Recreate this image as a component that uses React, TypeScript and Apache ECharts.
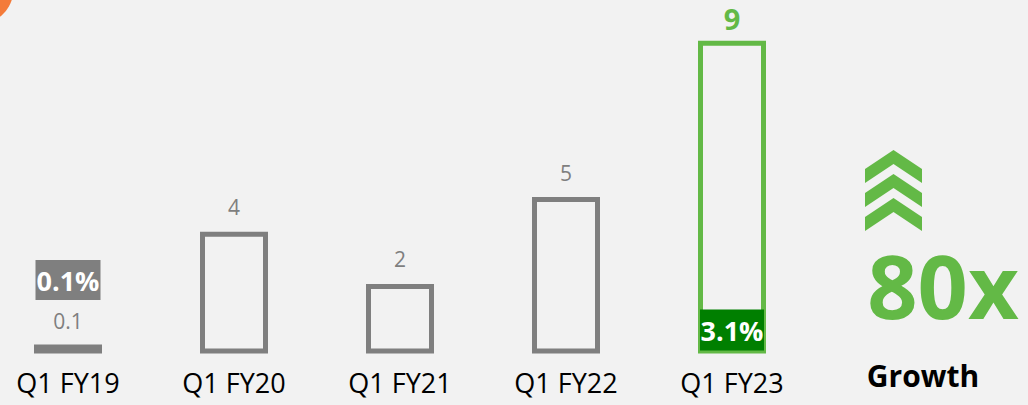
import React, { useEffect, useRef } from "react";
import * as echarts from "echarts";

const categories = ["Q1 FY19", "Q1 FY20", "Q1 FY21", "Q1 FY22", "Q1 FY23"];
const values = [0.1, 3.5, 2.0, 4.5, 9.0];
const valueLabels = ["0.1", "4", "2", "5", "9"];
const shareLabels = ["0.1%", "", "", "", "3.1%"];
const growthValue = "80x";
const growthCaption = "Growth";

const GRAY = "#7F7F7F";
const GREEN = "#63B946";
const DARK_GREEN = "#007F00";
const FONT = '"Open Sans", "Noto Sans", sans-serif';

export default function App() {
  const ref = useRef<HTMLDivElement>(null);

  useEffect(() => {
    if (!ref.current) return;
    const chart = echarts.init(ref.current, undefined, { renderer: "svg" });
    const last = values.length - 1;

    const mainData = values.map((v, i) => ({
      value: v,
      itemStyle: {
        color: i === 0 ? GRAY : "rgba(0,0,0,0)",
        borderColor: i === last ? GREEN : GRAY,
        borderWidth: 5,
      },
      label:
        i === last
          ? { distance: 8, color: GREEN, fontSize: 29, fontWeight: "bold" as const }
          : i === 0
          ? { distance: 13 }
          : undefined,
    }));

    const shareData = values.map((v, i) => {
      const s = shareLabels[i];
      if (!s) return { value: v, label: { show: false } };
      if (i === last) {
        return {
          value: v,
          label: {
            show: true,
            position: "insideBottom" as const,
            distance: 3,
            formatter: "{g|" + s + "}",
          },
        };
      }
      return {
        value: v,
        label: {
          show: true,
          position: "top" as const,
          distance: 44.5,
          formatter: "{b|" + s + "}",
        },
      };
    });

    const chevrons = [0, 24, 48].map((dy) => ({
      type: "polygon",
      shape: {
        points: [
          [865, 169 + dy],
          [893.5, 150 + dy],
          [922, 169 + dy],
          [922, 183 + dy],
          [893.5, 164 + dy],
          [865, 183 + dy],
        ],
      },
      style: { fill: GREEN },
    }));

    chart.setOption({
      animation: false,
      backgroundColor: "#F2F2F2",
      grid: {
        left: -15,
        width: 830,
        top: 40.7,
        bottom: 51.5,
        containLabel: false,
        outerBoundsMode: "none",
      },
      xAxis: {
        type: "category",
        data: categories,
        axisLine: { show: false },
        axisTick: { show: false },
        axisLabel: {
          color: "#000",
          fontSize: 27,
          fontFamily: FONT,
          margin: 15.5,
          interval: 0,
        },
      },
      yAxis: {
        type: "value",
        min: 0,
        max: 9,
        show: false,
        splitLine: { show: false },
      },
      series: [
        {
          type: "bar",
          name: "value",
          barWidth: 68,
          barMinHeight: 9,
          data: mainData,
          label: {
            show: true,
            position: "top",
            distance: 14,
            color: GRAY,
            fontSize: 21,
            fontFamily: FONT,
            formatter: (p: any) => valueLabels[p.dataIndex],
          },
          silent: true,
        },
        {
          type: "bar",
          name: "share",
          barWidth: 68,
          barMinHeight: 9,
          barGap: "-100%",
          data: shareData,
          itemStyle: { color: "rgba(0,0,0,0)", borderWidth: 0 },
          z: 5,
          silent: true,
          label: {
            fontFamily: FONT,
            rich: {
              b: {
                backgroundColor: GRAY,
                color: "#fff",
                fontWeight: "bold",
                fontSize: 27,
                fontFamily: FONT,
                width: 65,
                height: 40,
                lineHeight: 40,
                align: "center",
              },
              g: {
                backgroundColor: DARK_GREEN,
                color: "#fff",
                fontWeight: "bold",
                fontSize: 27,
                fontFamily: FONT,
                width: 64,
                height: 41,
                lineHeight: 41,
                align: "center",
              },
            },
          },
        },
      ],
      graphic: [
        {
          type: "circle",
          shape: { cx: -22, cy: -11, r: 35.5 },
          style: { fill: "#F47B3A" },
          silent: true,
        },
        ...chevrons,
        {
          type: "text",
          x: 943,
          y: 285,
          style: {
            text: growthValue,
            fill: GREEN,
            font: 'bold 88px "Open Sans", sans-serif',
            textAlign: "center",
            textVerticalAlign: "middle",
          },
        },
        {
          type: "text",
          x: 923,
          y: 375,
          style: {
            text: growthCaption,
            fill: "#000",
            font: 'bold 30px "Open Sans", sans-serif',
            textAlign: "center",
            textVerticalAlign: "middle",
          },
        },
      ],
    });

    return () => chart.dispose();
  }, []);

  return (
    <div
      ref={ref}
      style={{ position: "absolute", left: 0, top: 0, width: 1028, height: 405 }}
    />
  );
}
